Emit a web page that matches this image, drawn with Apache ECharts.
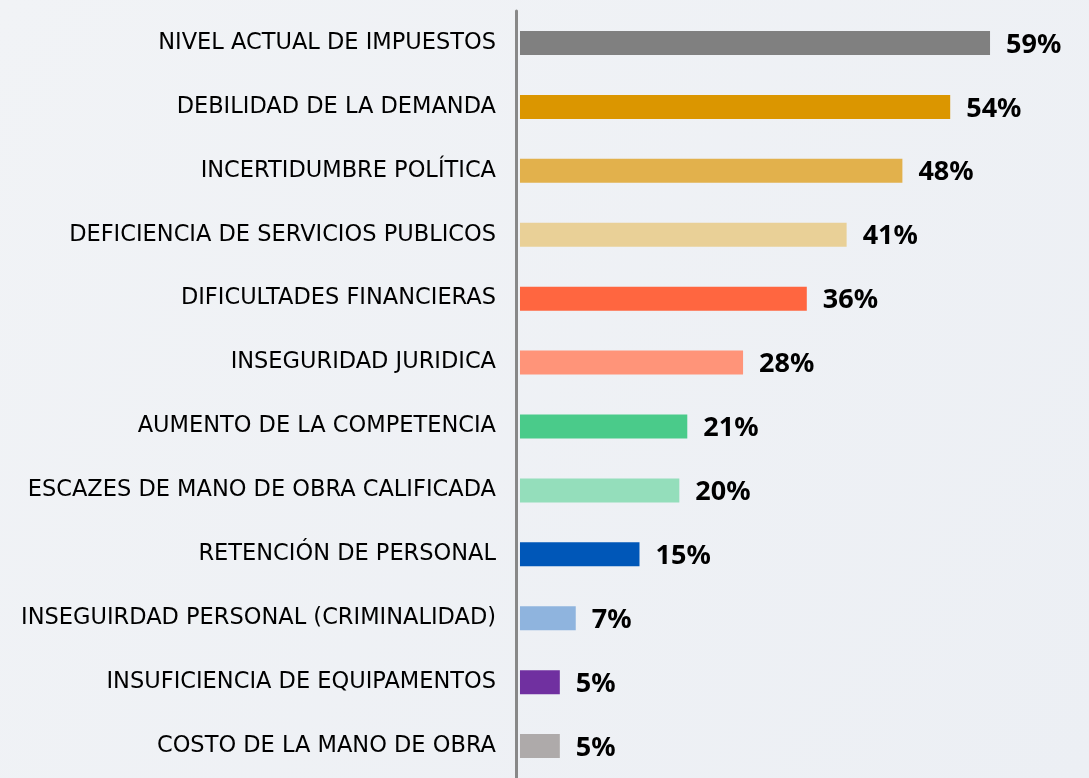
<!DOCTYPE html>
<html>
<head lang="es">
    <meta charset="UTF-8">
    <title>Obstáculos</title>
    <style>
        html,body{margin:0;padding:0;}
        #main{width:1089px;height:778px;}
    </style>
</head>
<body>
<div id="main"></div>

<script src="https://cdn.jsdelivr.net/npm/echarts@6/dist/echarts.min.js"></script>
<script>
    var categories = [
        'NIVEL ACTUAL DE IMPUESTOS',
        'DEBILIDAD DE LA DEMANDA',
        'INCERTIDUMBRE POLÍTICA',
        'DEFICIENCIA DE SERVICIOS PUBLICOS',
        'DIFICULTADES FINANCIERAS',
        'INSEGURIDAD JURIDICA',
        'AUMENTO DE LA COMPETENCIA',
        'ESCAZES DE MANO DE OBRA CALIFICADA',
        'RETENCIÓN DE PERSONAL',
        'INSEGUIRDAD PERSONAL (CRIMINALIDAD)',
        'INSUFICIENCIA DE EQUIPAMENTOS',
        'COSTO DE LA MANO DE OBRA'
    ];
    var values = [59, 54, 48, 41, 36, 28, 21, 20, 15, 7, 5, 5];

    var barColors = ['#808080', '#db9600', '#e2b14c', '#e9d097', '#ff6640', '#ff9479',
                     '#4acb8a', '#94debb', '#0057b8', '#8fb4de', '#7030a0', '#aeaaaa'];

    var myChart = echarts.init(document.getElementById('main'));

    var option = {
        backgroundColor: {
            type: 'linear', x: 0, y: 0, x2: 1, y2: 1,
            colorStops: [
                {offset: 0, color: '#f1f3f6'},
                {offset: 1, color: '#eceff4'}
            ]
        },
        grid: {
            left: 516,
            top: 11,
            width: 482,
            height: 768
        },
        xAxis: {
            type: 'value',
            min: -0.5,
            max: 60,
            show: false
        },
        yAxis: {
            type: 'category',
            data: categories,
            inverse: true,
            axisLine: {
                onZero: false,
                lineStyle: {color: '#888888', width: 3}
            },
            axisTick: {
                length: 3,
                lineStyle: {color: '#c8c8c8'}
            },
            axisLabel: {
                margin: 20,
                color: '#000',
                fontFamily: 'DejaVu Sans',
                fontSize: 22.5,
                padding: [4, 0, 0, 0]
            }
        },
        series: [{
            type: 'bar',
            data: values.map(function (v, i) {
                return {value: v, itemStyle: {color: barColors[i]}};
            }),
            barWidth: 24,
            label: {
                show: true,
                position: 'right',
                distance: 16,
                formatter: '{c}%',
                color: '#000',
                fontFamily: 'Noto Sans',
                fontWeight: 'bold',
                fontSize: 27,
                offset: [0, 2]
            }
        }]
    };
    myChart.setOption(option);
</script>
</body>
</html>
